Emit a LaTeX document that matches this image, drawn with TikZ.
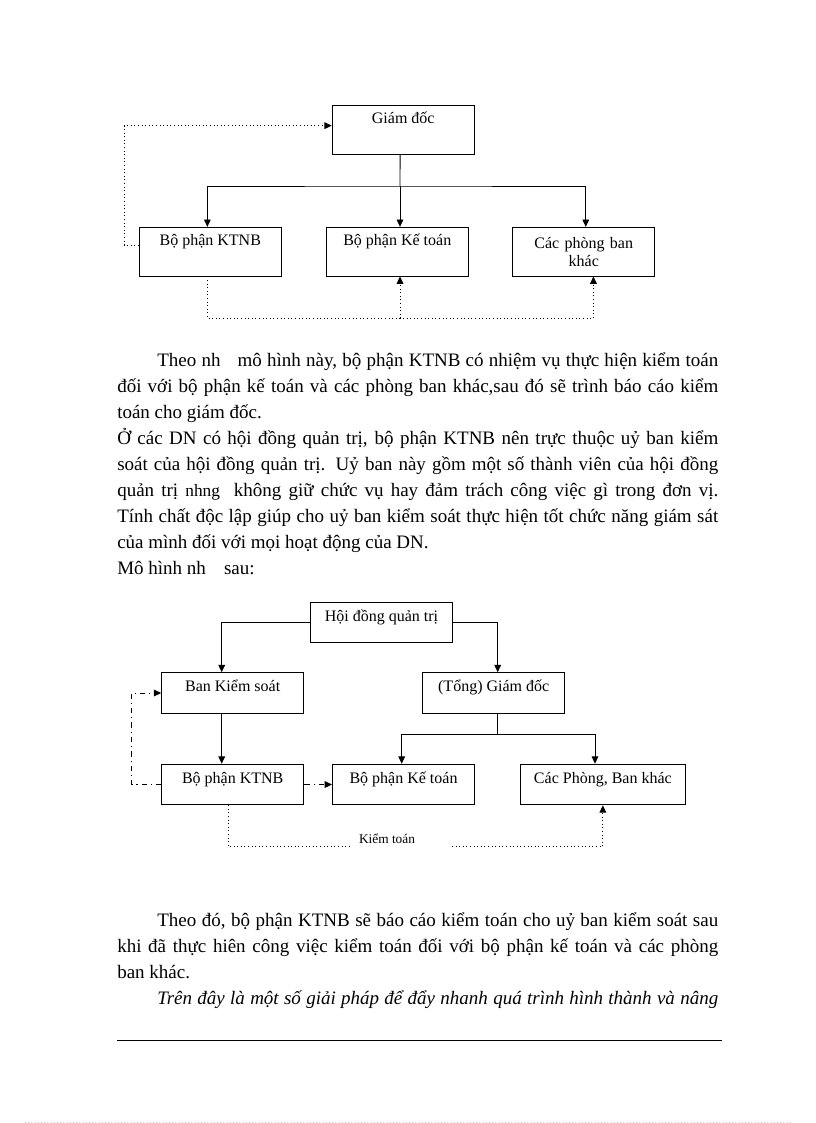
\documentclass[tikz,border=0pt]{standalone}
\usepackage{fontspec}
\setmainfont{Liberation Serif}
\usetikzlibrary{arrows.meta}

\newcommand\bodyfont{\fontsize{14.25pt}{19.5pt}\selectfont}
\newcommand\boxfont{\fontsize{12pt}{13.5pt}\selectfont}
\newcommand\fullline[1]{\makebox[450.75pt][s]{#1}}
\newcommand\indline[1]{\makebox[420.75pt][s]{#1}}

\tikzset{
  box/.style={draw, line width=0.7pt, font=\boxfont, minimum width=106.5pt,
    inner xsep=2pt, inner ysep=4pt, text height=9.8pt, text depth=18.7pt},
  boxtwo/.style={draw, line width=0.7pt, font=\boxfont, minimum width=106.5pt,
    inner xsep=2pt, inner ysep=4pt, text height=10.25pt, text depth=12.2pt},
  wrapbox/.style={draw, line width=0.7pt, font=\boxfont, minimum width=106.5pt,
    minimum height=36.5pt, text width=90pt, align=center, inner sep=0pt},
  arr/.style={line width=0.7pt, -{Triangle[length=5.5pt,width=5pt]}},
  twoarr/.style={line width=0.7pt, {Triangle[length=5.5pt,width=5pt]}-{Triangle[length=5.5pt,width=5pt]}},
  dot/.style={line width=0.7pt, dotted},
  dashdot/.style={line width=0.7pt, dash pattern=on 4pt off 3pt on 0.8pt off 3pt},
  line/.style={anchor=base west, inner sep=0pt, font=\bodyfont},
}

\begin{document}
\begin{tikzpicture}[x=0.75pt, y=-0.75pt]
\fill[white] (0,0) rectangle (816,1123);
\useasboundingbox (0,0) rectangle (816,1123);

% first model
\node[box] (gd) at (403.25,129.65) {Giám đốc};
\node[box] (ktnb) at (210.3,251.65) {Bộ phận KTNB};
\node[box] (kt) at (397.3,251.65) {Bộ phận Kế toán};
\node[wrapbox] (cac) at (583.75,251.65) {Các phòng ban\\khác};

\coordinate (bus1) at (400,186);
\coordinate (bus3) at (400,318.4);
\draw[line width=0.7pt] ([xshift=-2.4pt]gd.south) -- (bus1);
\draw[twoarr] ([xshift=-2.2pt]ktnb.north) |- (bus1) -| ([xshift=1.5pt]cac.north);
\draw[arr] (bus1) -- (bus1 |- kt.north);
\draw[dot, arr] ([yshift=5pt]ktnb.west) -- ++(-14.6,0) |- ([yshift=3pt]gd.west);
\draw[dot, arr] ([xshift=-2.2pt]ktnb.south) |- (bus3) -| ([xshift=7.25pt]cac.south);
\draw[dot, arr] (bus3) -- (bus3 |- kt.south);

% text
\node[line] (p1a) at (157,366) {\indline{Theo nh\hspace{9pt} mô hình này, bộ phận KTNB có nhiệm vụ thực hiện kiểm toán}};
\node[line] (p1b) at (117,392) {\fullline{đối với bộ phận kế toán và các phòng ban khác,sau đó sẽ trình báo cáo kiểm}};
\node[line] (p1c) at (117,418) {toán cho giám đốc.};
\node[line] (p2a) at (117,444) {\fullline{Ở các DN có hội đồng quản trị, bộ phận KTNB nên trực thuộc uỷ ban kiểm}};
\node[line] (p2b) at (117,470) {\fullline{soát của hội đồng quản trị. Uỷ ban này gồm một số thành viên của hội đồng}};
\node[line] (p2c) at (117,496) {\fullline{quản trị {\fontsize{13pt}{15pt}\selectfont nhng}\hspace{5pt} không giữ chức vụ hay đảm trách công việc gì trong đơn vị.}};
\node[line] (p2d) at (117,522) {\fullline{Tính chất độc lập giúp cho uỷ ban kiểm soát thực hiện tốt chức năng giám sát}};
\node[line] (p2e) at (117,548) {của mình đối với mọi hoạt động của DN.};
\node[line] (p3) at (117,574) {Mô hình nh\hspace{10pt} sau:};

% second model
\node[boxtwo] (hd) at (381.5,622.3) {Hội đồng quản trị};
\node[boxtwo] (bks) at (232.7,693) {Ban Kiểm soát};
\node[boxtwo] (tgd) at (493.7,693) {(Tổng) Giám đốc};
\node[boxtwo] (ktnb2) at (232.7,784.5) {Bộ phận KTNB};
\node[boxtwo] (kt2) at (403.5,784.5) {Bộ phận Kế toán};
\node[boxtwo, minimum width=123.2pt] (cac2) at (602.85,784.5) {Các Phòng, Ban khác};
\node[font=\fontsize{10pt}{12pt}\selectfont, inner sep=0pt] (audit) at (387,839) {Kiểm toán};

\coordinate (bus2) at (497.7,734.3);
\coordinate (g1) at (349,846.7);
\coordinate (g2) at (452,846.7);
\draw[arr] (hd.west) -| ([xshift=-8.25pt]bks.north);
\draw[arr] (hd.east) -| ([xshift=3pt]tgd.north);
\draw[arr] ([xshift=-8.25pt]bks.south) -- ([xshift=-8.25pt]ktnb2.north);
\draw[line width=0.7pt] ([xshift=3pt]tgd.south) -- (bus2);
\draw[twoarr] ([xshift=-1.35pt]kt2.north) |- (bus2) -| ([xshift=-5.9pt]cac2.north);
\draw[dashdot, arr] (ktnb2.west) -- ++(-29.7,0) |- (bks.west);
\draw[dashdot, arr] (ktnb2.east) -- (kt2.west);
\draw[dot] ([xshift=-3.3pt]ktnb2.south) |- (g1);
\draw[dot, arr] (g2) -| (cac2.south);

% text
\node[line] (p4a) at (157,926) {\indline{Theo đó, bộ phận KTNB sẽ báo cáo kiểm toán cho uỷ ban kiểm soát sau}};
\node[line] (p4b) at (117,952) {\fullline{khi đã thực hiên công việc kiểm toán đối với bộ phận kế toán và các phòng}};
\node[line] (p4c) at (117,978) {ban khác.};
\node[line] (p5) at (157,1004) {\indline{\itshape Trên đây là một số giải pháp để đẩy nhanh quá trình hình thành và nâng}};

\draw[line width=0.9pt] (117,1040.7) -- (722.3,1040.7);
\draw[dotted, gray!40] (25,1122) -- (792,1122);
\end{tikzpicture}
\end{document}
